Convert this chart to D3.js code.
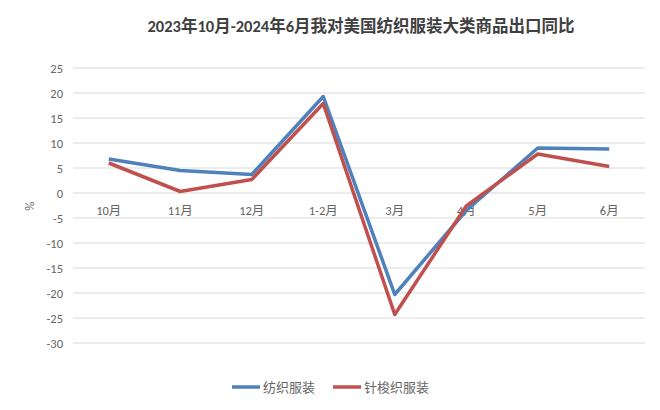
<!DOCTYPE html>
<html>
<head>
<meta charset="utf-8">
<script src="https://cdn.jsdelivr.net/npm/d3@7"></script>
<style>
  body { margin: 0; background: #fff; }
  text { font-family: Calibri, "Liberation Sans", "Noto Sans CJK SC", sans-serif; }
</style>
</head>
<body>
<script>
'use strict';

const months = ["10月", "11月", "12月", "1-2月", "3月", "4月", "5月", "6月"];
const textile = [6.8, 4.5, 3.7, 19.3, -20.3, -3.5, 9.0, 8.8];
const knit = [6.0, 0.3, 2.7, 17.9, -24.3, -2.6, 7.8, 5.3];
const yTicks = [25, 20, 15, 10, 5, 0, -5, -10, -15, -20, -25, -30];
const seriesNames = ["纺织服装", "针梭织服装"];
const colors = ["#4f81bd", "#c0504d"];

const width = 660, height = 410;
const plotLeft = 73, plotRight = 645, plotTop = 68, plotBottom = 343;

let svg = d3.select("body")
    .append("svg")
    .attr("width", width)
    .attr("height", height);

let x = d3.scaleBand().domain(months).range([plotLeft, plotRight]);
let y = d3.scaleLinear().domain([-30, 25]).range([plotBottom, plotTop]);

// gridlines
svg.append("g")
    .selectAll("line")
    .data(yTicks)
    .join("line")
    .attr("x1", plotLeft)
    .attr("x2", plotRight)
    .attr("y1", d => y(d))
    .attr("y2", d => y(d))
    .attr("stroke", "#d9d9d9")
    .attr("stroke-width", 1);

// y labels
svg.append("g")
    .selectAll("text")
    .data(yTicks)
    .join("text")
    .attr("x", plotLeft - 10)
    .attr("y", d => y(d) + 4.5)
    .attr("text-anchor", "end")
    .attr("font-size", 12.5)
    .attr("fill", "#666")
    .text(d => d);

// x labels sit just under the zero line
svg.append("g")
    .selectAll("text")
    .data(months)
    .join("text")
    .attr("x", d => x(d) + x.bandwidth() / 2)
    .attr("y", y(0) + 22)
    .attr("text-anchor", "middle")
    .attr("font-size", 12.5)
    .attr("fill", "#666")
    .text(d => d);

svg.append("text")
    .attr("transform", "translate(34," + (y(0) + 13) + ") rotate(-90)")
    .attr("text-anchor", "middle")
    .attr("font-size", 13)
    .attr("fill", "#666")
    .text("%");

let line = d3.line()
    .x((d, i) => x(months[i]) + x.bandwidth() / 2)
    .y(d => y(d));

[textile, knit].forEach((s, k) => {
    svg.append("path")
        .datum(s)
        .attr("d", line)
        .attr("fill", "none")
        .attr("stroke", colors[k])
        .attr("stroke-width", 3.5)
        .attr("stroke-linejoin", "round");
});

svg.append("text")
    .attr("x", 361)
    .attr("y", 32)
    .attr("text-anchor", "middle")
    .attr("font-size", 16.5)
    .attr("font-weight", "bold")
    .attr("fill", "#404040")
    .text("2023年10月-2024年6月我对美国纺织服装大类商品出口同比");

// legend
let legendX = [232, 333];
seriesNames.forEach((name, k) => {
    svg.append("line")
        .attr("x1", legendX[k])
        .attr("x2", legendX[k] + 28)
        .attr("y1", 387)
        .attr("y2", 387)
        .attr("stroke", colors[k])
        .attr("stroke-width", 3.5);
    svg.append("text")
        .attr("x", legendX[k] + 31)
        .attr("y", 392)
        .attr("font-size", 13)
        .attr("fill", "#666")
        .text(name);
});
</script>
</body>
</html>
